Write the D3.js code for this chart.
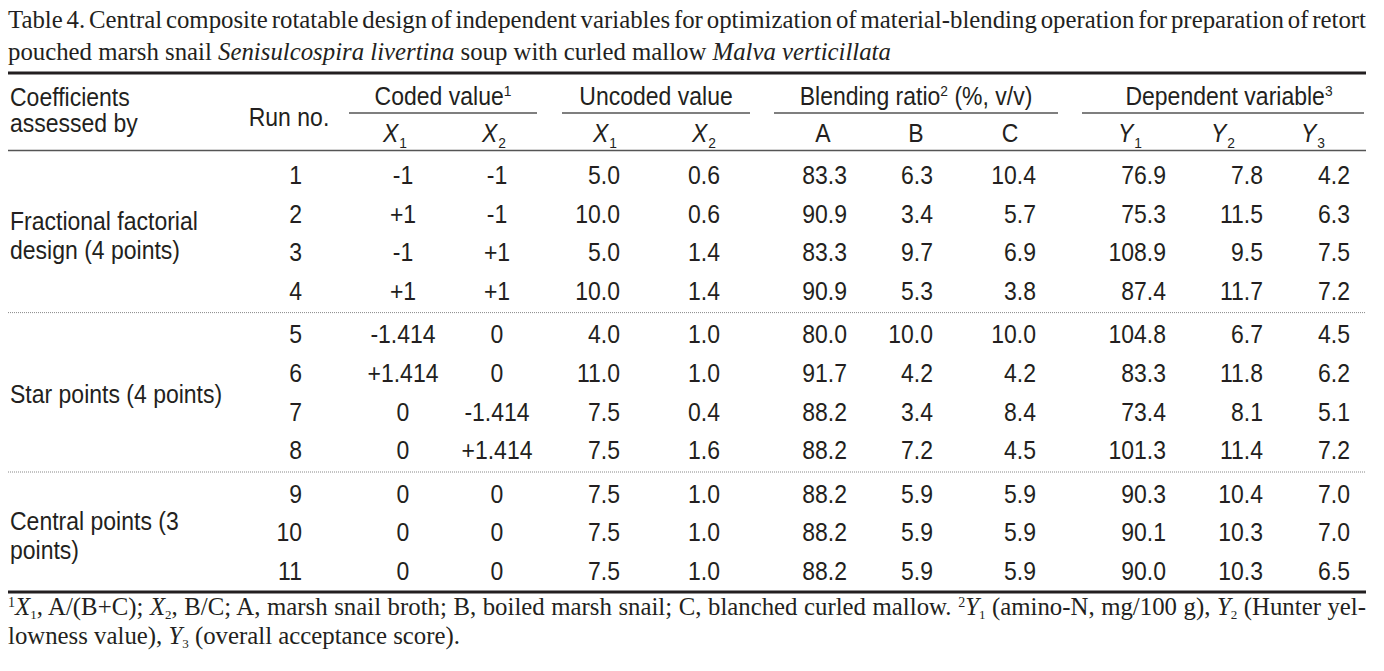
<!DOCTYPE html>
<html>
<head>
<meta charset="utf-8">
<script src="https://cdn.jsdelivr.net/npm/d3@7"></script>
<style>
  html, body { margin: 0; padding: 0; background: #fff; }
  svg { display: block; }
</style>
</head>
<body>
<svg id="chart" width="1384" height="671"></svg>
<script>
// ---------------- DATA ----------------
const runNo     = [1, 2, 3, 4, 5, 6, 7, 8, 9, 10, 11];
const groupOf   = [0, 0, 0, 0, 1, 1, 1, 1, 2, 2, 2];
const groupLabels = [
  ["Fractional factorial", "design (4 points)"],
  ["Star points (4 points)"],
  ["Central points (3", "points)"]
];
const codedX1   = ["-1", "+1", "-1", "+1", "-1.414", "+1.414", "0", "0", "0", "0", "0"];
const codedX2   = ["-1", "-1", "+1", "+1", "0", "0", "-1.414", "+1.414", "0", "0", "0"];
const uncodedX1 = [5.0, 10.0, 5.0, 10.0, 4.0, 11.0, 7.5, 7.5, 7.5, 7.5, 7.5];
const uncodedX2 = [0.6, 0.6, 1.4, 1.4, 1.0, 1.0, 0.4, 1.6, 1.0, 1.0, 1.0];
const ratioA    = [83.3, 90.9, 83.3, 90.9, 80.0, 91.7, 88.2, 88.2, 88.2, 88.2, 88.2];
const ratioB    = [6.3, 3.4, 9.7, 5.3, 10.0, 4.2, 3.4, 7.2, 5.9, 5.9, 5.9];
const ratioC    = [10.4, 5.7, 6.9, 3.8, 10.0, 4.2, 8.4, 4.5, 5.9, 5.9, 5.9];
const depY1     = [76.9, 75.3, 108.9, 87.4, 104.8, 83.3, 73.4, 101.3, 90.3, 90.1, 90.0];
const depY2     = [7.8, 11.5, 9.5, 11.7, 6.7, 11.8, 8.1, 11.4, 10.4, 10.3, 10.3];
const depY3     = [4.2, 6.3, 7.5, 7.2, 4.5, 6.2, 5.1, 7.2, 7.0, 7.0, 6.5];

const columnKeys = ["run", "cx1", "cx2", "ux1", "ux2", "A", "B", "C", "Y1", "Y2", "Y3"];
const groupHeaders = [
  { text: "Coded value", sup: "1", from: "cx1", to: "cx2", shift: 0 },
  { text: "Uncoded value", sup: "", from: "ux1", to: "ux2", shift: 0 },
  { text: "Blending ratio", sup: "2", after: " (%, v/v)", from: "A", to: "C", shift: 0 },
  { text: "Dependent variable", sup: "3", from: "Y1", to: "Y3", shift: 6 }
];
const subHeaders = [
  { key: "cx1", v: "X", s: "1" }, { key: "cx2", v: "X", s: "2" },
  { key: "ux1", v: "X", s: "1" }, { key: "ux2", v: "X", s: "2" },
  { key: "A", v: "A", s: "" }, { key: "B", v: "B", s: "" }, { key: "C", v: "C", s: "" },
  { key: "Y1", v: "Y", s: "1" }, { key: "Y2", v: "Y", s: "2" }, { key: "Y3", v: "Y", s: "3" }
];

// ---------------- LAYOUT ----------------
const svg = d3.select("#chart");
svg.append("rect").attr("width", 1384).attr("height", 671).attr("fill", "#fff");

const SANS = "'Liberation Sans', Arial, Helvetica, sans-serif";
const SERIF = "'Liberation Serif', 'Times New Roman', serif";
const SX = 0.92;             // horizontal compression of the table font
const FS = 25;               // table font size
const SFS = 24.8;            // serif font size (title / footnotes)
const INK = "#231f20";

// column anchor positions (data columns are right aligned, coded values centred)
const colX = d3.scaleOrdinal()
  .domain(columnKeys)
  .range([302, 403, 497, 620, 720, 847, 933, 1036, 1166, 1263, 1350]);
const colAnchor = d3.scaleOrdinal()
  .domain(columnKeys)
  .range(["end", "middle", "middle", "end", "end", "end", "end", "end", "end", "end", "end"]);
// header centres for the sub-header labels
const subX = d3.scaleOrdinal()
  .domain(columnKeys)
  .range([289, 395, 494, 605, 704, 823, 916, 1010, 1130, 1223, 1313]);
// spans of group-header underlines
const spanX = {
  cx1: 349, cx2: 537, ux1: 562, ux2: 750, A: 774, C: 1058, Y1: 1082, Y3: 1364
};

const rowY = d3.scaleLinear().domain([0, 10]).range([175.5, 175.5 + 386]);
const groupGap = 5;
const yCenter = i => rowY(i) + groupOf[i] * groupGap;

const LEFT = 8, RIGHT = 1366;

function sansText(g, x, y, anchor) {
  return g.append("text")
    .attr("transform", `translate(${x},${y}) scale(${SX},1)`)
    .attr("text-anchor", anchor)
    .attr("font-family", SANS)
    .attr("font-size", FS)
    .attr("fill", INK);
}

// ---------------- TITLE ----------------
function justify(textSel, width) {
  const node = textSel.node();
  const len = node.getComputedTextLength();
  const spaces = (node.textContent.match(/ /g) || []).length;
  if (spaces > 0) textSel.attr("word-spacing", (width - len) / spaces);
}

const title1 = svg.append("text")
  .attr("x", LEFT).attr("y", 28)
  .attr("font-family", SERIF).attr("font-size", SFS).attr("fill", INK)
  .text("Table 4. Central composite rotatable design of independent variables for optimization of material-blending operation for preparation of retort");
justify(title1, RIGHT - LEFT);

const title2 = svg.append("text")
  .attr("x", LEFT).attr("y", 60)
  .attr("font-family", SERIF).attr("font-size", SFS).attr("fill", INK);
title2.append("tspan").text("pouched marsh snail ");
title2.append("tspan").attr("font-style", "italic").text("Senisulcospira livertina");
title2.append("tspan").text(" soup with curled mallow ");
title2.append("tspan").attr("font-style", "italic").text("Malva verticillata");

// ---------------- RULES ----------------
const rules = svg.append("g");
rules.append("line").attr("x1", LEFT).attr("x2", RIGHT).attr("y1", 73).attr("y2", 73)
  .attr("stroke", INK).attr("stroke-width", 3);
rules.append("line").attr("x1", LEFT).attr("x2", RIGHT).attr("y1", 150.5).attr("y2", 150.5)
  .attr("stroke", "#555").attr("stroke-width", 1.5);
rules.append("line").attr("x1", LEFT).attr("x2", RIGHT).attr("y1", 592).attr("y2", 592)
  .attr("stroke", INK).attr("stroke-width", 3);
// dotted separators between groups
[3, 7].forEach(i => {
  const y = (yCenter(i) + yCenter(i + 1)) / 2 - 0.5;
  rules.append("line").attr("x1", LEFT).attr("x2", RIGHT).attr("y1", y).attr("y2", y)
    .attr("stroke", "#888").attr("stroke-width", 1).attr("stroke-dasharray", "1,1");
});

// ---------------- HEADER ----------------
const head = svg.append("g");
sansText(head, 10, 106, "start").text("Coefficients");
sansText(head, 10, 132, "start").text("assessed by");
sansText(head, 289, 126, "middle").text("Run no.");

groupHeaders.forEach(h => {
  const x1 = spanX[h.from], x2 = spanX[h.to];
  const t = sansText(head, (x1 + x2) / 2 + h.shift, 105, "middle");
  t.append("tspan").text(h.text);
  if (h.sup) t.append("tspan").attr("font-size", 15).attr("dy", -9).text(h.sup);
  if (h.after) t.append("tspan").attr("dy", 9).text(h.after);
  head.append("line").attr("x1", x1).attr("x2", x2).attr("y1", 113).attr("y2", 113)
    .attr("stroke", "#555").attr("stroke-width", 1.5);
});

subHeaders.forEach(s => {
  const t = sansText(head, subX(s.key), 142, "middle");
  t.append("tspan").attr("font-style", s.s ? "italic" : "normal").text(s.v);
  if (s.s) t.append("tspan").attr("font-size", 15).attr("dy", 6).attr("dx", 1).text(s.s);
});

// ---------------- BODY ----------------
const body = svg.append("g");
const columns = {
  run: runNo.map(String),
  cx1: codedX1,
  cx2: codedX2,
  ux1: uncodedX1.map(d => d.toFixed(1)),
  ux2: uncodedX2.map(d => d.toFixed(1)),
  A: ratioA.map(d => d.toFixed(1)),
  B: ratioB.map(d => d.toFixed(1)),
  C: ratioC.map(d => d.toFixed(1)),
  Y1: depY1.map(d => d.toFixed(1)),
  Y2: depY2.map(d => d.toFixed(1)),
  Y3: depY3.map(d => d.toFixed(1))
};
columnKeys.forEach(k => {
  columns[k].forEach((v, i) => {
    sansText(body, colX(k), yCenter(i) + 8.5, colAnchor(k)).text(v);
  });
});

// group labels
groupLabels.forEach((lines, g) => {
  const idx = groupOf.map((d, i) => d === g ? i : -1).filter(i => i >= 0);
  const mid = d3.mean(idx, yCenter);
  if (lines.length === 1) {
    sansText(body, 10, mid + 10, "start").text(lines[0]);
  } else {
    sansText(body, 10, mid - 3, "start").text(lines[0]);
    sansText(body, 10, mid + 26, "start").text(lines[1]);
  }
});

// ---------------- FOOTNOTES ----------------
function fnParts(t, parts) {
  parts.forEach(p => {
    const ts = t.append("tspan").text(p[0]);
    if (p[1] === "i") ts.attr("font-style", "italic");
    if (p[1] === "sub") ts.attr("font-size", 13).attr("dy", 3.5);
    if (p[1] === "sup") ts.attr("font-size", 14).attr("dy", -8);
    if (p[2]) ts.attr("dy", p[2]);
  });
}
const fn1 = svg.append("text")
  .attr("x", LEFT).attr("y", 615)
  .attr("font-family", SERIF).attr("font-size", SFS).attr("fill", INK);
fnParts(fn1, [
  ["1", "sup"], ["X", "i", 8], ["1", "sub"], [", A/(B+C); ", "n", -3.5],
  ["X", "i"], ["2", "sub"], [", B/C; A, marsh snail broth; B, boiled marsh snail; C, blanched curled mallow. ", "n", -3.5],
  ["2", "sup"], ["Y", "i", 8], ["1", "sub"], [" (amino-N, mg/100 g), ", "n", -3.5],
  ["Y", "i"], ["2", "sub"], [" (Hunter yel-", "n", -3.5]
]);
justify(fn1, RIGHT - LEFT);

const fn2 = svg.append("text")
  .attr("x", LEFT).attr("y", 644)
  .attr("font-family", SERIF).attr("font-size", SFS).attr("fill", INK);
fnParts(fn2, [
  ["lowness value), ", "n"], ["Y", "i"], ["3", "sub"], [" (overall acceptance score).", "n", -3.5]
]);
</script>
</body>
</html>
